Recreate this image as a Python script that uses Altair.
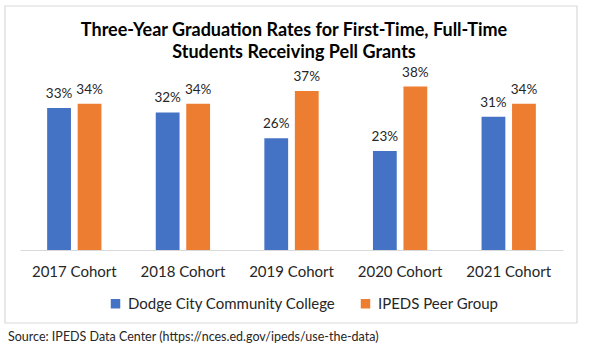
import altair as alt
import pandas as pd

cohorts = ["2017 Cohort", "2018 Cohort", "2019 Cohort", "2020 Cohort", "2021 Cohort"]
dodge = [0.33, 0.32, 0.26, 0.23, 0.31]
peer = [0.34, 0.34, 0.37, 0.38, 0.34]
series = ["Dodge City Community College", "IPEDS Peer Group"]
colors = ["#4472C4", "#ED7D31"]
title_lines = ["Three-Year Graduation Rates for First-Time, Full-Time", "Students Receiving Pell Grants"]
source_text = "Source: IPEDS Data Center (https://nces.ed.gov/ipeds/use-the-data)"

FONT = "Lato"

rows = []
for c, d, p in zip(cohorts, dodge, peer):
    rows.append({"cohort": c, "series": series[0], "value": d})
    rows.append({"cohort": c, "series": series[1], "value": p})
df = pd.DataFrame(rows)
df["label"] = (df["value"] * 100).round().astype(int).astype(str) + "%"

x = alt.X("cohort:N", sort=cohorts, title=None,
          scale=alt.Scale(paddingInner=0.5, paddingOuter=0.25),
          axis=alt.Axis(labelAngle=0, ticks=False, domainColor="#d9d9d9", domainWidth=1,
                        labelFont=FONT, labelFontSize=15, labelColor="#262626", labelPadding=14))
y = alt.Y("value:Q", scale=alt.Scale(domain=[0, 0.4], nice=False), axis=None)
xo = alt.XOffset("series:N", sort=series, scale=alt.Scale(paddingInner=0.22))
color = alt.Color("series:N", sort=series, scale=alt.Scale(domain=series, range=colors),
                  legend=alt.Legend(title=None, orient="none", legendX=88, legendY=218,
                                    direction="horizontal", symbolType="square", symbolSize=90,
                                    symbolStrokeWidth=0, labelFont=FONT, labelFontSize=15,
                                    labelColor="#262626", columnPadding=22, labelOffset=5,
                                    labelLimit=400))

bars = alt.Chart(df).mark_bar().encode(x=x, xOffset=xo, y=y, color=color)
labels = alt.Chart(df).mark_text(baseline="alphabetic", dy=-10, font=FONT, fontSize=13.5, color="#262626").encode(
    x=x, xOffset=xo, y=y, text="label:N")

one = pd.DataFrame({"t": [source_text]})
border = alt.Chart(one).mark_rect(fill=None, stroke="#d9d9d9", strokeWidth=1.2, clip=False).encode(
    x=alt.value(-15), x2=alt.value(557), y=alt.value(-72), y2=alt.value(245))
source = alt.Chart(one).mark_text(align="left", baseline="alphabetic", font=FONT, fontSize=12.5,
                                  color="#262626").encode(
    x=alt.value(-12), y=alt.value(263), text="t:N")

t1 = alt.Chart(pd.DataFrame({"t": [title_lines[0]]})).mark_text(
    align="center", baseline="alphabetic", font=FONT, fontSize=18, fontWeight="bold", color="#000000").encode(
    x=alt.value(274), y=alt.value(-42), text="t:N")
t2 = alt.Chart(pd.DataFrame({"t": [title_lines[1]]})).mark_text(
    align="center", baseline="alphabetic", font=FONT, fontSize=18, fontWeight="bold", color="#000000").encode(
    x=alt.value(274), y=alt.value(-20), text="t:N")

chart = alt.layer(border, t1, t2, bars, labels, source).properties(
    width=543, height=172,
    background="white",
    autosize=alt.AutoSizeParams(type="none"),
    padding={"left": 20, "top": 78, "right": 29, "bottom": 100},
).configure_view(stroke=None)

chart.save("out.html", embed_options={"renderer": "svg", "actions": False})
